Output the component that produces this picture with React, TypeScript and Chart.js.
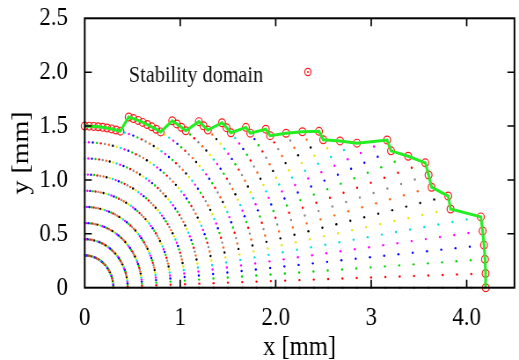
import React, { useEffect, useRef } from 'react';
import { Chart, registerables } from 'chart.js';

Chart.register(...registerables);

// Start positions form a polar grid: rays every 1.8° from the x axis (ray 0)
// to the y axis (ray 50), rings every 0.15 mm beginning at 0.3 mm.
const RAY_STEP_DEG = 1.8;
const RING_STEP_MM = 0.15;
const FIRST_RING_MM = 0.3;

// Radius (mm) where each ray leaves the stability domain.
const BOUNDARY_RADIUS_MM = [
  4.2, 4.2, 4.2, 4.2, 4.2, 4.2,
  3.9, 3.9,
  3.75, 3.75, 3.75,
  3.6,
  3.45, 3.45,
  3.15,
  3.0,
  2.85, 2.85,
  2.7,
  2.55,
  2.4, 2.4,
  2.25, 2.25,
  2.1, 2.1, 2.1,
  1.95, 1.95, 1.95,
  1.8, 1.8, 1.8, 1.8,
  1.65, 1.65, 1.65, 1.65, 1.65, 1.65, 1.65, 1.65,
  1.5, 1.5, 1.5, 1.5, 1.5, 1.5, 1.5, 1.5, 1.5,
];

// Colour cycle of the rays, starting with ray 1.
const RAY_COLORS = ['#ff0000', '#00d400', '#0000ff', '#ff00ff', '#00dede', '#e8e800', '#000000', '#ff6410', '#8a8a8a'];

const X_TICKS = [0, 1, 2, 3, 4];
const X_TICK_LABELS = ['0', '1', '2.0', '3', '4.0'];
const Y_TICKS = [0, 0.5, 1, 1.5, 2, 2.5];
const Y_TICK_LABELS = ['0', '0.5', '1.0', '1.5', '2.0', '2.5'];

const LEGEND_LABEL = 'Stability domain';

// The drawing is made on a wider canvas and squeezed horizontally.
const VIEW_W = 519;
const VIEW_H = 360;
const CANVAS_W = 590;
const SQUEEZE = VIEW_W / CANVAS_W;

const SERIF = "'Liberation Serif', 'Times New Roman', serif";

const toXY = (r: number, deg: number) => {
  const a = (deg * Math.PI) / 180;
  return { x: r * Math.cos(a), y: r * Math.sin(a) };
};

const gridPoints: { x: number; y: number }[] = [];
const gridColors: string[] = [];
BOUNDARY_RADIUS_MM.forEach((rMax, j) => {
  const first = Math.round(FIRST_RING_MM / RING_STEP_MM);
  const last = Math.round(rMax / RING_STEP_MM) - 1;
  for (let k = first; k <= last; k++) {
    gridPoints.push(toXY(k * RING_STEP_MM, j * RAY_STEP_DEG));
    gridColors.push(RAY_COLORS[(j + RAY_COLORS.length - 1) % RAY_COLORS.length]);
  }
});

const boundaryPoints = BOUNDARY_RADIUS_MM.map((r, j) => toXY(r, j * RAY_STEP_DEG));

const framePlugin = {
  id: 'frame',
  afterDatasetsDraw(chart: any) {
    const { ctx, chartArea, scales } = chart;
    const { left, right, top, bottom } = chartArea;
    const xs = scales.x;
    const ys = scales.y;
    ctx.save();
    ctx.strokeStyle = '#000';
    ctx.lineWidth = 1.7;
    ctx.beginPath();
    X_TICKS.forEach((v) => {
      if (v <= 0) return;
      const px = xs.getPixelForValue(v);
      ctx.moveTo(px, bottom);
      ctx.lineTo(px, bottom - 8);
      ctx.moveTo(px, top);
      ctx.lineTo(px, top + 8);
    });
    ctx.stroke();
    ctx.lineWidth = 1.4;
    ctx.beginPath();
    Y_TICKS.forEach((v) => {
      if (v <= 0 || v >= 2.5) return;
      const py = ys.getPixelForValue(v);
      ctx.moveTo(left, py);
      ctx.lineTo(left + 8, py);
      ctx.moveTo(right, py);
      ctx.lineTo(right - 8, py);
    });
    ctx.stroke();
    ctx.lineWidth = 2;
    ctx.strokeRect(left, top, right - left, bottom - top);

    // key
    ctx.fillStyle = '#111';
    ctx.font = `23px ${SERIF}`;
    ctx.textAlign = 'left';
    ctx.textBaseline = 'alphabetic';
    ctx.fillText(LEGEND_LABEL, 146.5, 81.5);
    ctx.strokeStyle = '#ff1a1a';
    ctx.lineWidth = 1.2;
    ctx.beginPath();
    ctx.arc(350, 72, 3.6, 0, Math.PI * 2);
    ctx.stroke();
    ctx.fillStyle = '#ff1a1a';
    ctx.beginPath();
    ctx.arc(350, 72, 1, 0, Math.PI * 2);
    ctx.fill();
    ctx.restore();
  },
};

const whiteBg = {
  id: 'whiteBg',
  beforeDraw(chart: any) {
    const { ctx, width, height } = chart;
    ctx.save();
    ctx.fillStyle = '#fff';
    ctx.fillRect(0, 0, width, height);
    ctx.restore();
  },
};

export default function App() {
  const ref = useRef<HTMLCanvasElement>(null);

  useEffect(() => {
    const canvas = ref.current;
    if (!canvas) return;
    const chart = new Chart(canvas, {
      type: 'scatter',
      data: {
        datasets: [
          {
            label: 'boundary',
            data: boundaryPoints,
            showLine: true,
            borderColor: '#22ee22',
            borderWidth: 3,
            pointRadius: 0,
            tension: 0,
            clip: false,
            order: 0,
          },
          {
            label: LEGEND_LABEL,
            data: boundaryPoints,
            showLine: false,
            pointRadius: 3.9,
            pointBorderWidth: 1.2,
            pointBorderColor: '#ff1a1a',
            pointBackgroundColor: 'rgba(0,0,0,0)',
            clip: false,
            order: 1,
          },
          {
            label: 'grid',
            data: gridPoints,
            showLine: false,
            pointRadius: 1.2,
            pointBorderWidth: 0,
            pointBackgroundColor: gridColors,
            pointBorderColor: gridColors,
            clip: false,
            order: 2,
          },
        ],
      },
      options: {
        responsive: false,
        devicePixelRatio: 1,
        animation: false,
        events: [],
        layout: { padding: { left: 0, right: 2, top: 18.3, bottom: 0 } },
        plugins: { legend: { display: false }, tooltip: { enabled: false } },
        scales: {
          x: {
            type: 'linear',
            min: 0,
            max: 4.5,
            grid: { display: false, drawTicks: false },
            border: { display: false },
            afterBuildTicks: (scale: any) => {
              scale.ticks = X_TICKS.map((v) => ({ value: v }));
            },
            afterFit: (scale: any) => {
              scale.height = 72.3;
              scale.paddingLeft = 0;
              scale.paddingRight = 0;
            },
            ticks: {
              autoSkip: false,
              maxRotation: 0,
              padding: 15,
              color: '#000',
              font: { family: SERIF, size: 26 },
              callback: (v: any) => {
                const i = X_TICKS.indexOf(Number(v));
                return i >= 0 ? X_TICK_LABELS[i] : '';
              },
            },
            title: {
              display: true,
              text: 'x [mm]',
              color: '#000',
              font: { family: SERIF, size: 28, lineHeight: 0.9 },
              padding: 0,
            },
          },
          y: {
            type: 'linear',
            min: 0,
            max: 2.5,
            grid: { display: false, drawTicks: false },
            border: { display: false },
            afterBuildTicks: (scale: any) => {
              scale.ticks = Y_TICKS.map((v) => ({ value: v }));
            },
            afterFit: (scale: any) => {
              scale.width = 96.3;
              scale.paddingTop = 0;
              scale.paddingBottom = 0;
            },
            ticks: {
              autoSkip: false,
              padding: 19,
              color: '#000',
              font: { family: SERIF, size: 26 },
              callback: (v: any) => {
                const i = Y_TICKS.findIndex((t) => Math.abs(t - Number(v)) < 1e-6);
                return i >= 0 ? Y_TICK_LABELS[i] : '';
              },
            },
            title: {
              display: true,
              text: 'y [mm]',
              color: '#000',
              font: { family: SERIF, size: 28, lineHeight: 1.2 },
              padding: { top: 7.5, bottom: 0 },
            },
          },
        },
      },
      plugins: [whiteBg, framePlugin],
    } as any);
    return () => chart.destroy();
  }, []);

  return (
    <div
      style={{
        position: 'absolute',
        left: 0,
        top: 0,
        width: VIEW_W,
        height: VIEW_H,
        overflow: 'hidden',
        background: '#fff',
      }}
    >
      <div style={{ width: CANVAS_W, height: VIEW_H, transform: `scaleX(${SQUEEZE})`, transformOrigin: '0 0' }}>
        <canvas ref={ref} width={CANVAS_W} height={VIEW_H} style={{ display: 'block' }} />
      </div>
    </div>
  );
}
